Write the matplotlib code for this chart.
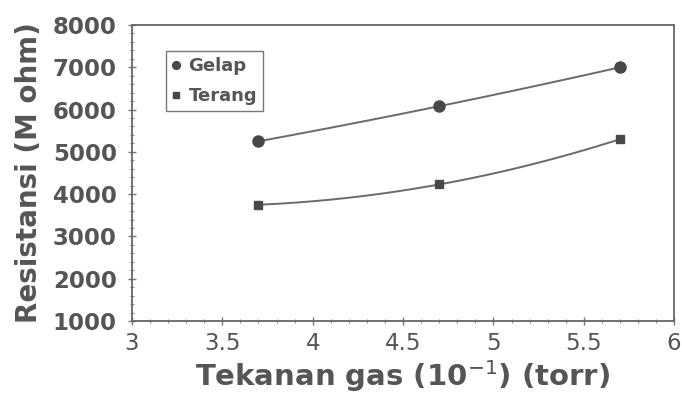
import numpy as np
import matplotlib.pyplot as plt
from matplotlib.ticker import MultipleLocator

tekanan = [3.7, 4.7, 5.7]
gelap = [5250, 6080, 7000]
terang = [3750, 4230, 5300]

plt.rcParams['font.family'] = ['DejaVu Sans']
grey = '#555555'

fig = plt.figure(figsize=(6.82, 3.97), dpi=100)
ax = fig.add_axes([0.1935, 0.1914, 0.795, 0.7456])

# smooth line through the three points (like the original spline)
xs = np.linspace(tekanan[0], tekanan[-1], 100)
for vals, mk, ms, lab in [(gelap, 'o', 8, 'Gelap'), (terang, 's', 6, 'Terang')]:
    coef = np.polyfit(tekanan, vals, 2)
    ax.plot(xs, np.polyval(coef, xs), color='#6a6a6a', lw=1.4)
    ax.plot(tekanan, vals, ls='none', marker=mk, ms=ms, color='#484848', label=lab)

ax.set_xlim(3, 6)
ax.set_ylim(1000, 8000)
ax.xaxis.set_major_locator(MultipleLocator(0.5))
ax.xaxis.set_minor_locator(MultipleLocator(0.1))
ax.yaxis.set_major_locator(MultipleLocator(1000))
ax.yaxis.set_minor_locator(MultipleLocator(200))
ax.set_xticks([3, 3.5, 4, 4.5, 5, 5.5, 6], ['3', '3.5', '4', '4.5', '5', '5.5', '6'])
ax.tick_params(which='major', direction='inout', length=6, width=1, color='#777777',
               labelcolor=grey)
ax.tick_params(axis='x', labelsize=16.5, pad=5)
ax.tick_params(axis='y', labelsize=16.5, pad=8)
for t in ax.get_yticklabels():
    t.set_fontweight('semibold')
ax.tick_params(which='minor', direction='inout', length=3, width=0.8, color='#888888')
for s in ax.spines.values():
    s.set_color('#666666')
    s.set_linewidth(1.3)

ax.set_xlabel('Tekanan gas (10$^{-1}$) (torr)', fontsize=21, fontweight='bold', color=grey, labelpad=2)
ax.set_ylabel('Resistansi (M ohm)', fontsize=20, fontweight='bold', color=grey, labelpad=7)

leg = ax.legend(loc='upper left', bbox_to_anchor=(0.046, 0.943), frameon=True, fancybox=False,
                edgecolor='#555555', handlelength=0.4, handletextpad=0.5, borderpad=0.35,
                labelspacing=0.65, markerscale=0.7, prop={'weight': 'bold', 'size': 13})
leg.get_frame().set_linewidth(1.0)
for t in leg.get_texts():
    t.set_color(grey)

fig.savefig('out.png', dpi=100)
